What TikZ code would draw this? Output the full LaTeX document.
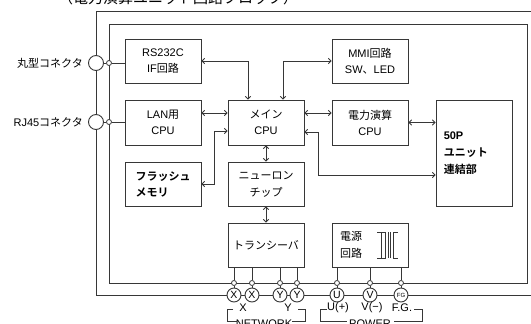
\documentclass[tikz,border=0pt]{standalone}
\usepackage{fontspec}
\setmainfont{Liberation Sans}
\newfontfamily\jp{Noto Sans CJK JP}[BoldFont={Noto Sans CJK JP Bold}]
\newcommand\J[1]{{\jp #1}}
\usetikzlibrary{arrows.meta}
\definecolor{ln}{RGB}{55,55,55}
\tikzset{
  x=1pt, y=-1pt,
  every node/.style={font=\fontsize{11}{16}\selectfont, text=black},
  blk/.style={draw=ln, line width=0.9pt, minimum width=76pt, minimum height=44pt, align=center, inner sep=0pt},
  wire/.style={draw=ln, line width=0.9pt},
  arr/.style={wire, {Straight Barb[length=2.6pt,width=5.5pt]}-{Straight Barb[length=2.6pt,width=5.5pt]}},
  dot/.style={circle, draw=ln, fill=white, line width=0.8pt, minimum size=5pt, inner sep=0pt},
  term/.style={circle, draw=ln, fill=white, line width=0.9pt, minimum size=14pt, inner sep=0pt, font=\fontsize{10.5}{10.5}\selectfont},
  jack/.style={circle, draw=ln, fill=white, line width=0.9pt, minimum size=15pt, inner sep=0pt},
  lab/.style={font=\fontsize{11}{11}\selectfont, inner sep=0pt},
}
\begin{document}
\begin{tikzpicture}
\useasboundingbox (0,0) rectangle (531,324);
% title (cut at top, as in the reference)
\node[anchor=base west, inner sep=0pt, font=\jp\fontsize{15}{15}\selectfont] (title) at (58,3) {（電力演算ユニット回路ブロック）};
% frames
\coordinate (o1) at (531,11);
\coordinate (o2) at (96,11);
\coordinate (o3) at (96,295);
\coordinate (o4) at (531,295);
\draw[wire] (o1) -- (o2) -- (o3) -- (o4);
\coordinate (i1) at (109,24);
\coordinate (i2) at (527,283);
\draw[wire] (i1) rectangle (i2);
% boxes
\node[blk] (rs) at (163,61) {RS232C\\IF\J{回路}};
\node[blk, minimum height=45pt] (lan) at (163,122.5) {LAN\J{用}\\CPU};
\node[blk, minimum height=45pt] (main) at (266,122.5) {\J{メイン}\\CPU};
\node[blk] (mmi) at (370,61) {MMI\J{回路}\\SW\J{、}LED};
\node[blk, minimum height=45pt] (pw) at (370,122.5) {\J{電力演算}\\CPU};
\node[blk, minimum height=106pt] (unit) at (474,153) {};
\node[anchor=west, align=left, inner sep=0pt, font=\bfseries\fontsize{11}{17}\selectfont] (unitt) at ([xshift=8pt]unit.west) {50P\\\J{ユニット}\\\J{連結部}};
\node[blk, align=left, font=\bfseries\fontsize{11}{16}\selectfont] (flash) at (163,184) {\J{フラッシュ}\\\J{メモリ}};
\node[blk, font=\fontsize{11}{17}\selectfont] (neuron) at (266,184) {\J{ニューロン}\\\J{チップ}};
\node[blk] (trans) at (266,245) {\J{トランシーバ}};
\node[blk] (psu) at (370,245) {};
\node[align=center, inner sep=0pt, font=\fontsize{11}{17}\selectfont] (psut) at (351,245) {\J{電源}\\\J{回路}};
% transformer symbol
\draw[wire, line width=0.8pt] (377,232) -- (385,232) -- (385,258) -- (377,258);
\draw[wire, line width=0.8pt] (388,232) -- (388,258);
\draw[wire, line width=0.8pt] (390,232) -- (390,258);
\draw[wire, line width=0.8pt] (398,232) -- (393,232) -- (393,258) -- (398,258);
\draw[wire, line width=0.8pt] (381,232) -- (381,258);
% arrows
\draw[arr] (rs.east) -| ([xshift=-18pt]main.north);
\draw[arr] (mmi.west) -| ([xshift=17pt]main.north);
\draw[arr] ([yshift=9.5pt]lan.east) -- ([yshift=9.5pt]main.west);
\draw[arr] ([yshift=9.5pt]main.east) -- ([yshift=9.5pt]pw.west);
\draw[arr] (pw.east) -- (pw.east -| unit.west);
\draw[arr] ([yshift=-8.5pt]main.west) -- ++(-13,0) |- (flash.east);
\draw[arr] ([yshift=-9.5pt]main.east) -- ++(14,0) |- ([yshift=-22pt]unit.west);
\draw[arr] (main.south) -- (neuron.north);
\draw[arr] (neuron.south) -- (trans.north);
% left connectors
\node[jack] (j1) at (96,63) {};
\node[dot] (d1) at (109,63) {};
\draw[wire] (j1) -- (d1) -- (rs.west |- d1);
\node[jack] (j2) at (96,122) {};
\node[dot] (d2) at (109,122) {};
\draw[wire] (j2) -- (d2) -- (lan.west |- d2);
\node[anchor=east, inner sep=0pt] (l1) at (83,63) {\J{丸型コネクタ}};
\node[anchor=east, inner sep=0pt] (l2) at (83,122) {RJ45\J{コネクタ}};
% bottom terminals
\foreach \n/\x/\t/\b in {x1/234/X/trans, x2/252/X/trans, y1/280/Y/trans, y2/297/Y/trans, u/337/U/psu, v/370/V/psu}{
  \node[dot] (s\n) at (\x,283) {};
  \node[term] (t\n) at (\x,295) {\t};
  \draw[wire] (\b.south -| s\n) -- (s\n) -- (t\n);
}
\node[dot] (sfg) at (401,283) {};
\node[term, font=\fontsize{6}{6}\selectfont] (tfg) at (401,295) {FG};
\draw[wire] (psu.south -| sfg) -- (sfg) -- (tfg);
% labels
\node[lab] (lx) at (243,308) {X};
\node[lab] (ly) at (288,308) {Y};
\node[lab, anchor=base] (lnet) at (264,327) {NETWORK};
\node[lab] (lu) at (338,308) {U(+)};
\node[lab] (lv) at (372,308) {V(−)};
\node[lab] (lfg) at (402,308) {F.G.};
\node[lab, anchor=base] (lpow) at (370,327) {POWER};
% brackets
\coordinate (nb1) at (233,309); \coordinate (nb2) at (227,309);
\coordinate (nb3) at (227,321); \coordinate (nb4) at (237,321);
\draw[wire] (nb1) -- (nb2) -- (nb3) -- (nb4);
\coordinate (nc1) at (298,309); \coordinate (nc2) at (305,309);
\coordinate (nc3) at (305,321); \coordinate (nc4) at (292,321);
\draw[wire] (nc1) -- (nc2) -- (nc3) -- (nc4);
\coordinate (pb1) at (327,309); \coordinate (pb2) at (320,309);
\coordinate (pb3) at (320,321); \coordinate (pb4) at (347,321);
\draw[wire] (pb1) -- (pb2) -- (pb3) -- (pb4);
\coordinate (pc1) at (414,309); \coordinate (pc2) at (422,309);
\coordinate (pc3) at (422,321); \coordinate (pc4) at (394,321);
\draw[wire] (pc1) -- (pc2) -- (pc3) -- (pc4);
\end{tikzpicture}
\end{document}
